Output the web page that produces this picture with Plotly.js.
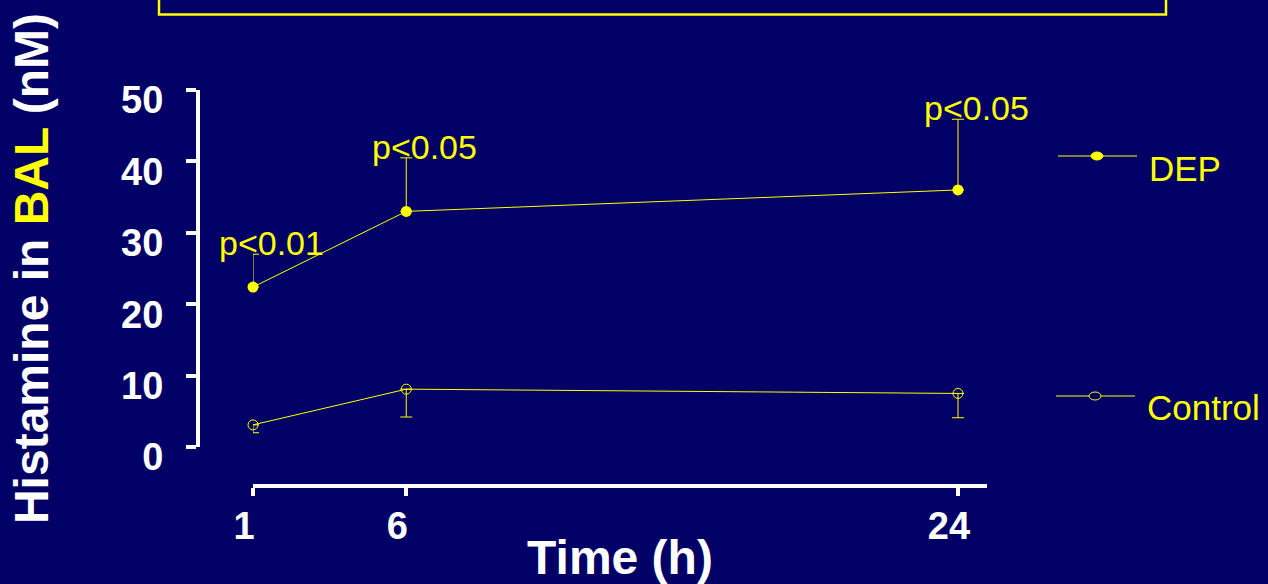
<!DOCTYPE html>
<html>
<head>
<meta charset="utf-8">
<script src="https://cdn.plot.ly/plotly-3.0.1.min.js"></script>
<style>
  html, body { margin: 0; padding: 0; background: #000066; }
  #chart { width: 1268px; height: 584px; }
</style>
</head>
<body>
<div id="chart"></div>
<script>
// ---- data ----
const timeHours   = [1, 6, 24];
const timeLabels  = ["1", "6", "24"];
const depMean     = [22.4, 33.0, 36.0];
const depSEM      = [4.6, 7.5, 9.9];
const ctrlMean    = [3.1, 8.1, 7.5];
const ctrlSEM     = [1.1, 3.9, 3.4];
const pLabels     = ["p<0.01", "p<0.05", "p<0.05"];
const seriesNames = ["DEP", "Control"];
const yTicks      = [0, 10, 20, 30, 40, 50];

// ---- helpers for paper positioning ----
const W = 1268, H = 584;
const px = x => x / W;
const py = y => 1 - y / H;
const YEL = "#ffff00";
const FONT = "Liberation Sans, Arial, sans-serif";

const zeros = a => a.map(() => 0);

const traces = [
  {
    name: seriesNames[0], x: timeHours, y: depMean, type: "scatter", mode: "lines+markers",
    line: { color: YEL, width: 1 },
    marker: { symbol: "circle", size: 11, color: YEL },
    error_y: { type: "data", symmetric: false, array: depSEM, arrayminus: zeros(depSEM),
               color: YEL, thickness: 1, width: 6 },
    cliponaxis: false, showlegend: false
  },
  {
    name: seriesNames[1], x: timeHours, y: ctrlMean, type: "scatter", mode: "lines+markers",
    line: { color: YEL, width: 1 },
    marker: { symbol: "circle-open", size: 10, color: YEL, line: { color: YEL, width: 1 } },
    error_y: { type: "data", symmetric: false, array: zeros(ctrlSEM), arrayminus: ctrlSEM,
               color: YEL, thickness: 1, width: 6 },
    cliponaxis: false, showlegend: false
  }
];

const annotations = timeHours.map((t, i) => ({
  x: t, y: depMean[i] + depSEM[i], xref: "x", yref: "y",
  text: pLabels[i], showarrow: false, xanchor: "center", yanchor: "middle",
  xshift: 18, yshift: 11,
  font: { family: FONT, size: 34, color: YEL }
}));

// custom legend labels
annotations.push(
  { x: px(1147), y: py(168), xref: "paper", yref: "paper", text: seriesNames[0], showarrow: false,
    xanchor: "left", yanchor: "middle", font: { family: FONT, size: 35, color: YEL } },
  { x: px(1145), y: py(407), xref: "paper", yref: "paper", text: seriesNames[1], showarrow: false,
    xanchor: "left", yanchor: "middle", font: { family: FONT, size: 35, color: YEL } }
);

const shapes = [
  // top framed box
  { type: "rect", xref: "paper", yref: "paper", x0: px(159), x1: px(1166), y0: py(14.5), y1: 1.05,
    line: { color: YEL, width: 2.5 }, fillcolor: "rgba(0,0,0,0)" },
  // legend samples
  { type: "line", xref: "paper", yref: "paper", x0: px(1058), x1: px(1137), y0: py(156), y1: py(156),
    line: { color: YEL, width: 1 } },
  { type: "circle", xref: "paper", yref: "paper", x0: px(1091), x1: px(1103), y0: py(152), y1: py(160),
    line: { color: YEL, width: 1 }, fillcolor: YEL },
  { type: "line", xref: "paper", yref: "paper", x0: px(1056), x1: px(1135), y0: py(396), y1: py(396),
    line: { color: YEL, width: 1 } },
  { type: "circle", xref: "paper", yref: "paper", x0: px(1089), x1: px(1101), y0: py(392), y1: py(400),
    line: { color: YEL, width: 1 }, fillcolor: "#000066" }
];

const layout = {
  width: W, height: H,
  margin: { l: 0, r: 0, t: 0, b: 0 },
  paper_bgcolor: "#000066", plot_bgcolor: "#000066",
  font: { family: FONT, color: "#ffffff" },
  showlegend: false,
  xaxis: {
    domain: [px(253), px(987)], range: [1, 24.946],
    anchor: "free", position: py(486),
    tickvals: timeHours, ticktext: timeLabels,
    showline: true, linecolor: "#ffffff", linewidth: 4,
    ticks: "outside", ticklen: 8, tickwidth: 4, tickcolor: "#ffffff",
    ticklabelshift: -9, ticklabelstandoff: -3,
    showgrid: false, zeroline: false,
    tickfont: { family: FONT, size: 38, color: "#ffffff", weight: "bold" },
    title: { text: "<b>Time (h)</b>", standoff: 8,
             font: { family: FONT, size: 48, color: "#ffffff" } }
  },
  yaxis: {
    domain: [py(447), py(90)], range: [0, 50],
    anchor: "free", position: px(198),
    tickvals: yTicks,
    showline: true, linecolor: "#ffffff", linewidth: 4,
    ticks: "outside", ticklen: 10, tickwidth: 4, tickcolor: "#ffffff",
    ticklabelshift: 10, ticklabelstandoff: 15,
    showgrid: false, zeroline: false,
    tickfont: { family: FONT, size: 38, color: "#ffffff", weight: "bold" },
    title: { text: '<b>Histamine in <span style="color:#ffff00">BAL</span> (nM)</b>', standoff: 56,
             font: { family: FONT, size: 48, color: "#ffffff" } }
  },
  annotations: annotations,
  shapes: shapes
};

Plotly.newPlot("chart", traces, layout, { displayModeBar: false, staticPlot: true });
</script>
</body>
</html>
